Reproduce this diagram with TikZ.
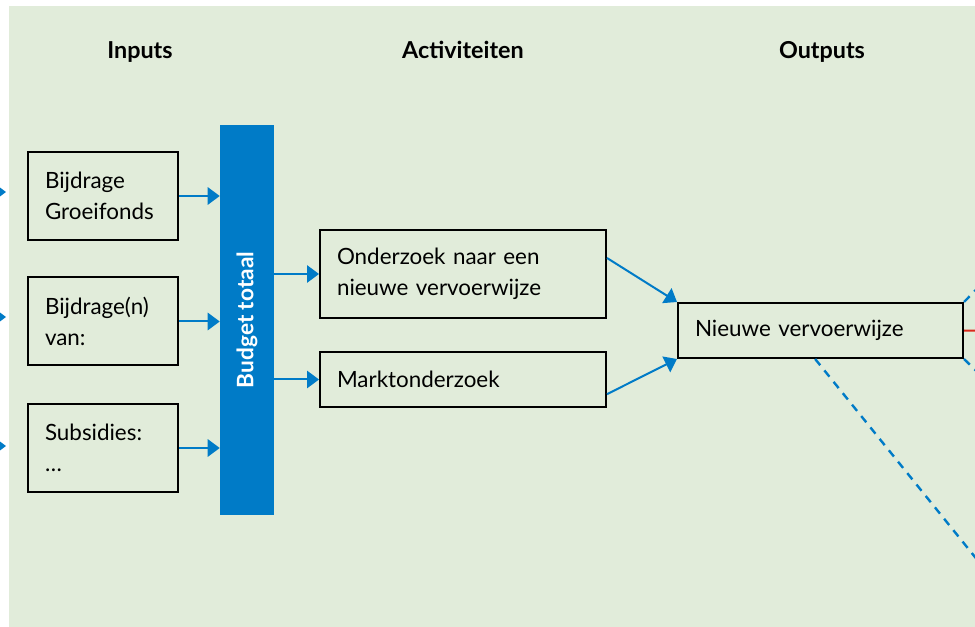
\documentclass[tikz,border=0pt]{standalone}
\usepackage{fontspec}
\setmainfont{Lato}
\usetikzlibrary{arrows.meta}
\definecolor{achtergrond}{RGB}{225,236,218}
\definecolor{hemelblauw}{RGB}{0,123,199}
\definecolor{signaalrood}{RGB}{218,41,28}

\begin{document}
\begin{tikzpicture}[x=0.75pt, y=-0.75pt,
  kop/.style={anchor=base, font=\bfseries\fontsize{17.5}{20}\selectfont},
  vak/.style={rectangle, draw=black, line width=1.5pt, align=left, inner xsep=12.75pt, inner ysep=0pt, font=\fontsize{16.8}{23.25}\selectfont},
  pijl/.style={draw=hemelblauw, line width=1.5pt, -{Triangle[length=9pt,width=13pt]}},
  stippel/.style={draw=hemelblauw, line width=1.8pt, dash pattern=on 6pt off 5pt},
  budget/.style={rectangle, fill=hemelblauw, minimum width=40.5pt, minimum height=292.5pt, inner sep=0pt},
  budgettekst/.style={rotate=90, text=white, font=\bfseries\fontsize{17}{20}\selectfont}]
\useasboundingbox (0,0) rectangle (975,627);
\clip (0,0) rectangle (975,627);
\fill[achtergrond] (9,6) rectangle (975,627);

% kolomkoppen
\draw (140,59) node(inputs) [kop] {Inputs};
\draw (463,59) node(activiteiten) [kop] {Activiteiten};
\draw (822,59) node(outputs) [kop] {Outputs};

% inputs
\draw (103,196) node(groeifonds) [vak, text width=87pt, minimum height=66pt] {Bijdrage\\Groeifonds};
\draw (103,321.5) node(bijdragen) [vak, text width=87pt, minimum height=66pt] {Bijdrage(n)\\van:};
\draw (103,448) node(subsidies) [vak, text width=87pt, minimum height=66pt] {Subsidies:\\\dots};
\draw (247,320) node(bar) [budget, label={[budgettekst]center:Budget totaal}] {};

% activiteiten en output
\draw (463,274) node(onderzoek) [vak, text width=189pt, minimum height=66pt] {Onderzoek naar een\\nieuwe vervoerwijze};
\draw (463,379.5) node(markt) [vak, text width=189pt, minimum height=41.25pt] {Marktonderzoek};
\draw (820.5,330.5) node(vervoer) [vak, text width=188.25pt, minimum height=41.25pt] {Nieuwe vervoerwijze};

% pijlen van buiten het beeld
\coordinate (buiten1) at (-30,192);
\coordinate (buiten2) at (-30,317);
\coordinate (buiten3) at (-30,446);
\coordinate (punt1) at (6,192);
\coordinate (punt2) at (6,317);
\coordinate (punt3) at (6,446);
\draw[pijl] (buiten1) -- (punt1);
\draw[pijl] (buiten2) -- (punt2);
\draw[pijl] (buiten3) -- (punt3);

% inputs naar budget
\draw[pijl] (groeifonds.east) -- (groeifonds.east -| bar.west);
\draw[pijl] (bijdragen.east) -- (bijdragen.east -| bar.west);
\draw[pijl] (subsidies.east) -- (subsidies.east -| bar.west);

% budget naar activiteiten
\draw[pijl] (bar.east |- onderzoek.west) -- (onderzoek.west);
\draw[pijl] (bar.east |- markt.west) -- (markt.west);

% activiteiten naar output
\draw[pijl] ([yshift=12pt]onderzoek.east) -- (vervoer.north west);
\draw[pijl] ([yshift=-11pt]markt.east) -- (vervoer.south west);

% lijnen naar rechts
\coordinate (rechtsboven) at (1000,265.5);
\coordinate (rechtsmidden) at (1000,331);
\coordinate (rechtsonder) at (1000,394);
\coordinate (rechtsver) at (1000,588);
\draw[stippel] (vervoer.north east) -- (rechtsboven);
\draw[signaalrood, line width=1.5pt] (vervoer.east) -- (rechtsmidden);
\draw[stippel] (vervoer.south east) -- (rechtsonder);
\draw[stippel] ([xshift=-4pt]vervoer.south) -- (rechtsver);
\end{tikzpicture}
\end{document}
